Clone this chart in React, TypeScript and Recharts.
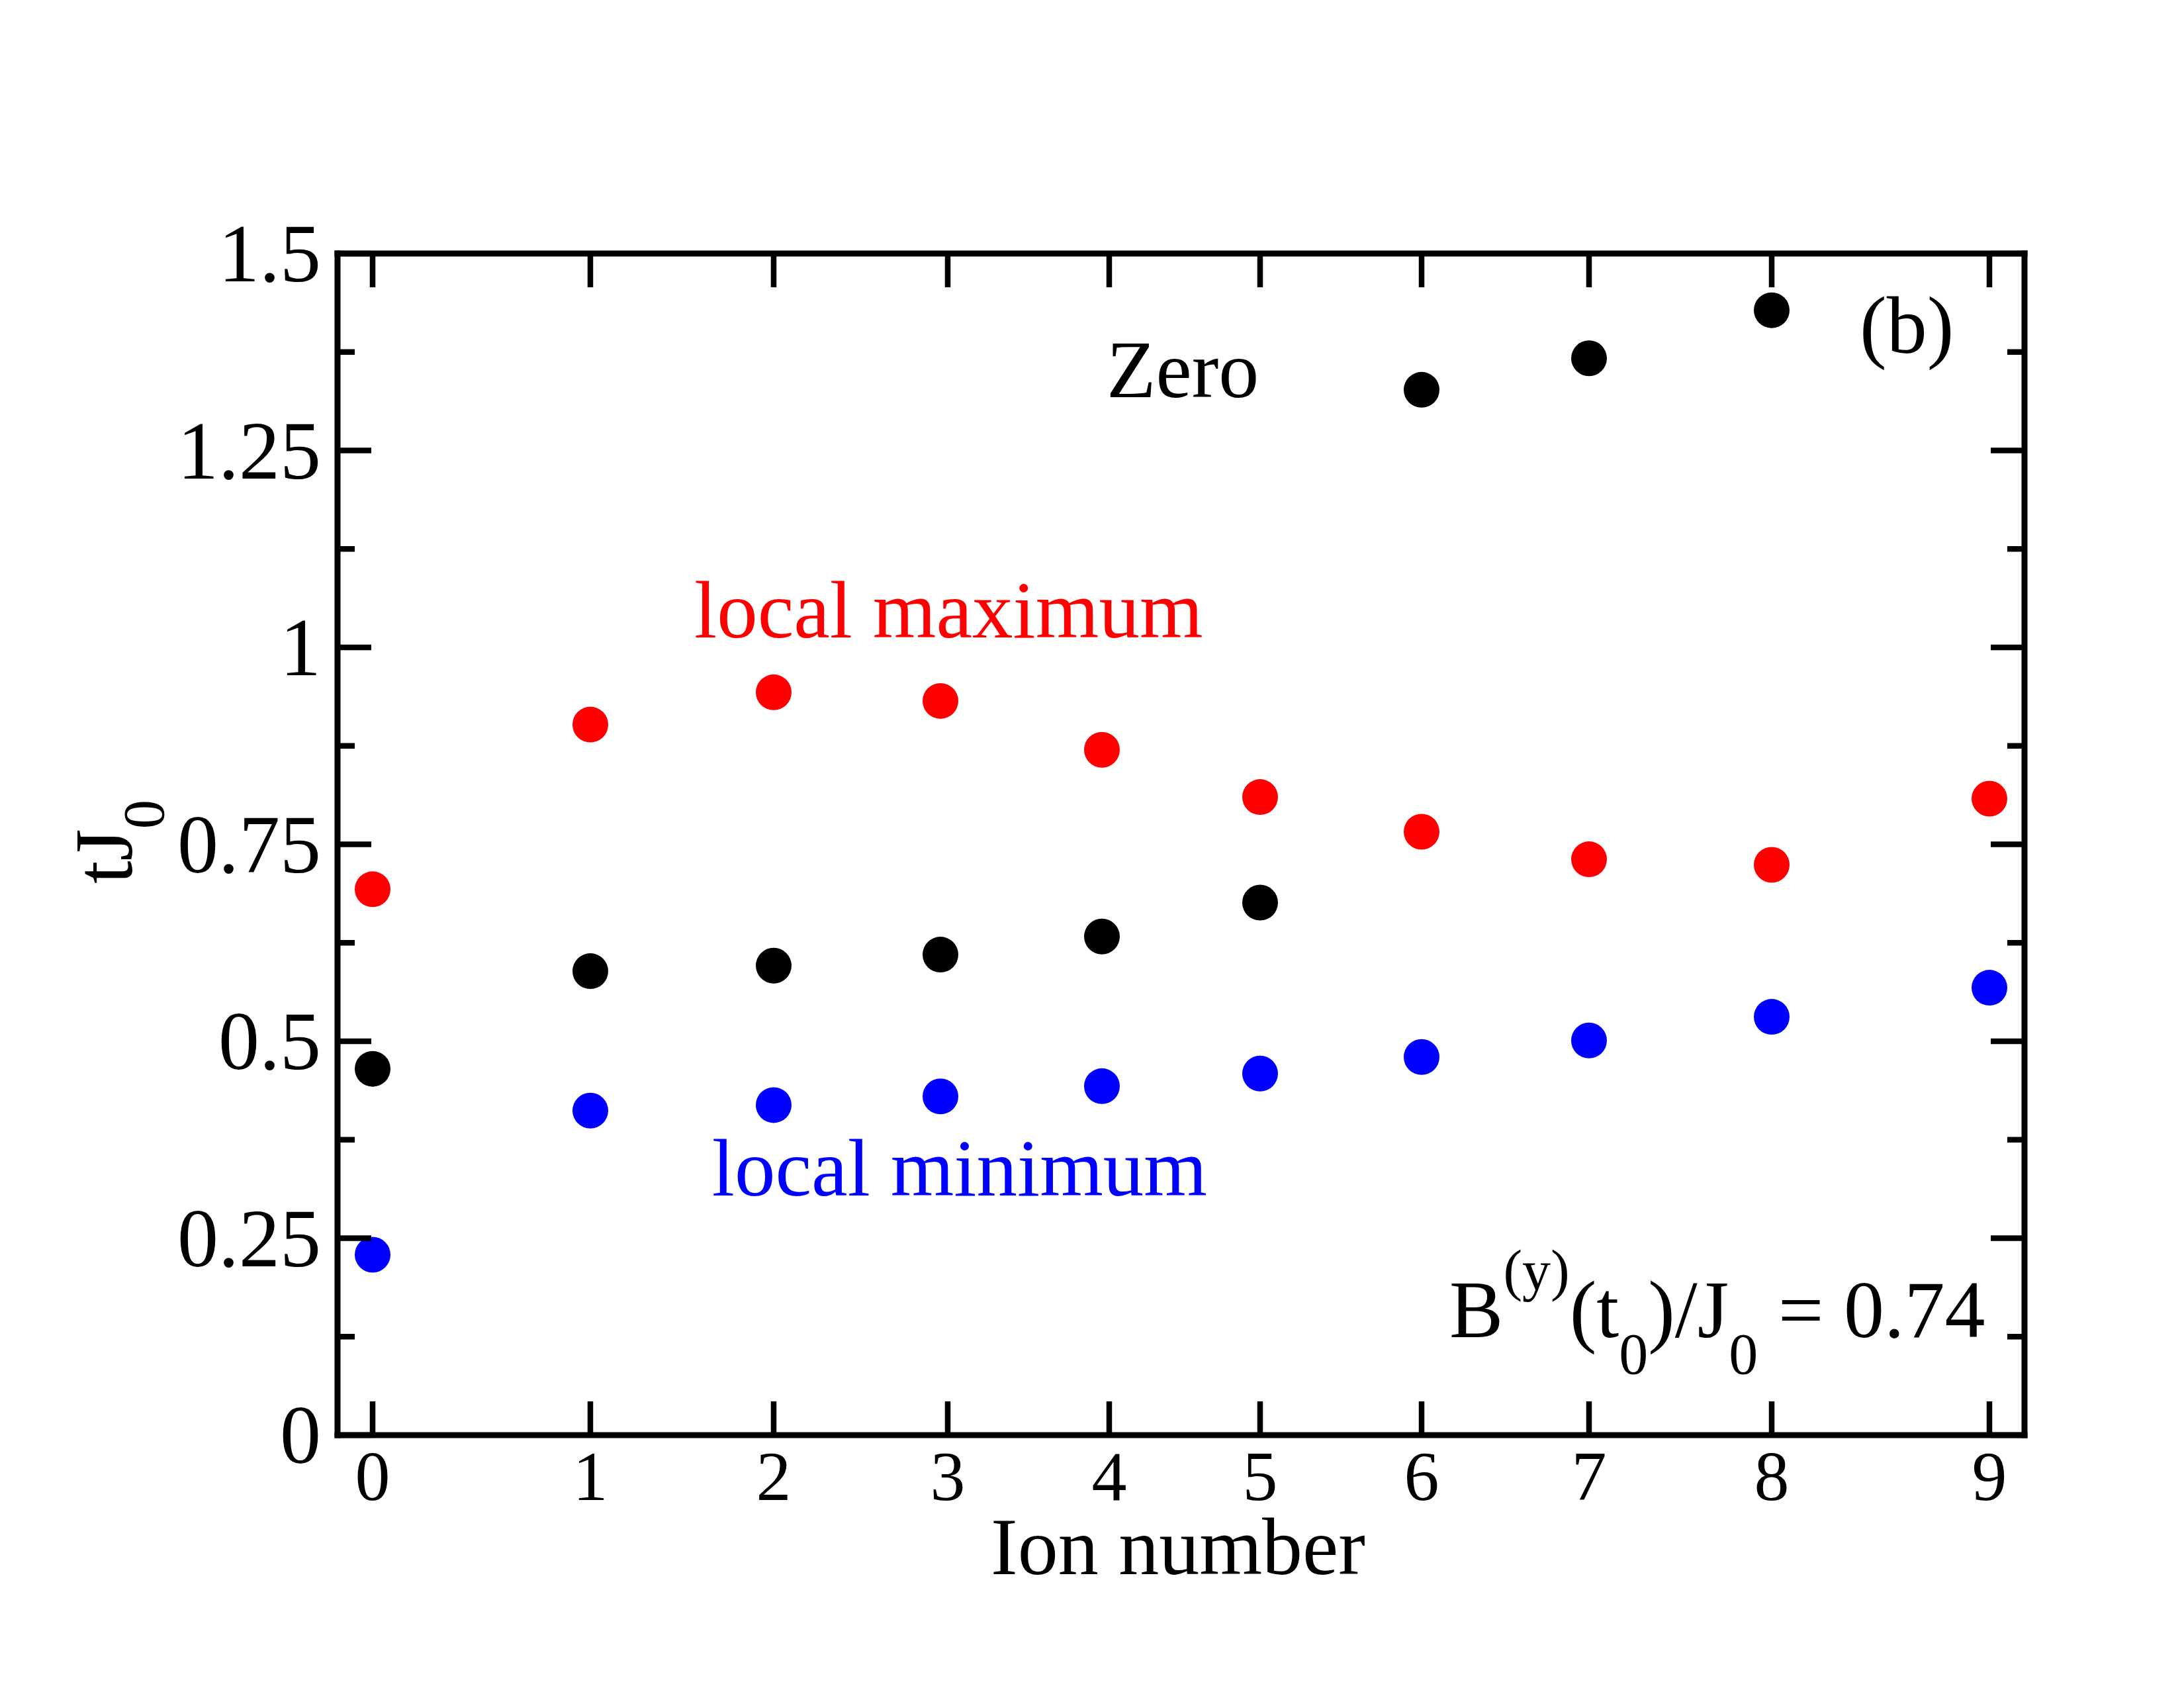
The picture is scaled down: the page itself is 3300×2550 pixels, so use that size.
import { ScatterChart, Scatter, XAxis, YAxis, Customized } from 'recharts'

// ion equilibrium positions (arbitrary length units), tick marks and dots
const ionLabels = ['0', '1', '2', '3', '4', '5', '6', '7', '8', '9']
const tickPos = [-12.23, -8.94, -6.17, -3.54, -1.1, 1.18, 3.62, 6.15, 8.91, 12.2]
const pointPos = [-12.23, -8.94, -6.17, -3.65, -1.21, 1.18, 3.62, 6.15, 8.91, 12.2]

// tJ0 at the zero crossing, local maximum and local minimum
const zeroVals = [0.465, 0.589, 0.596, 0.61, 0.633, 0.676, 1.327, 1.367, 1.428]
const maxVals = [0.693, 0.902, 0.943, 0.932, 0.87, 0.81, 0.766, 0.731, 0.724, 0.808]
const minVals = [0.229, 0.412, 0.419, 0.43, 0.443, 0.459, 0.48, 0.501, 0.531, 0.568]

const yTicks = [0, 0.125, 0.25, 0.375, 0.5, 0.625, 0.75, 0.875, 1, 1.125, 1.25, 1.375, 1.5]
const yLabels: Record<string, string> = { '0': '0', '0.25': '0.25', '0.5': '0.5', '0.75': '0.75', '1': '1', '1.25': '1.25', '1.5': '1.5' }

const FONT = '"Liberation Serif", "Times New Roman", serif'
const MAJOR = 51
const MINOR = 26
const TICK_W = 8.5

const toPoints = (vals: number[]) => vals.map((v, i) => ({ x: pointPos[i], y: v }))
const zeroData = toPoints(zeroVals)
const maxData = toPoints(maxVals)
const minData = toPoints(minVals)

const dot = (color: string) => (props: any) => (
  <circle cx={props.cx} cy={props.cy} r={27} fill={color} />
)

const BottomTick = (props: any) => {
  const { x, y, index } = props
  return (
    <g>
      <line x1={x} y1={y} x2={x} y2={y - MAJOR} stroke="#000" strokeWidth={TICK_W} />
      <text x={x} y={y + 98} textAnchor="middle" fontSize={106} fontFamily={FONT} fill="#000">
        {ionLabels[index]}
      </text>
    </g>
  )
}

const TopTick = (props: any) => {
  const { x, y } = props
  return <line x1={x} y1={y} x2={x} y2={y + MAJOR} stroke="#000" strokeWidth={TICK_W} />
}

const isMajor = (v: number) => Math.abs(v * 4 - Math.round(v * 4)) < 1e-6

const LeftTick = (props: any) => {
  const { x, y, payload } = props
  const v = payload.value
  const major = isMajor(v)
  return (
    <g>
      <line x1={x} y1={y} x2={x + (major ? MAJOR : MINOR)} y2={y} stroke="#000" strokeWidth={TICK_W} />
      {major && (
        <text x={x - 25} y={y + 42} textAnchor="end" fontSize={124} fontFamily={FONT} fill="#000">
          {yLabels[String(v)]}
        </text>
      )}
    </g>
  )
}

const RightTick = (props: any) => {
  const { x, y, payload } = props
  const major = isMajor(payload.value)
  return <line x1={x} y1={y} x2={x - (major ? MAJOR : MINOR)} y2={y} stroke="#000" strokeWidth={TICK_W} />
}

const Annotations = () => (
  <g fontFamily={FONT}>
    <text x={1672} y={600} fontSize={122} fill="#000">Zero</text>
    <text x={2810} y={533} fontSize={122} fill="#000">(b)</text>
    <text x={1049} y={963} fontSize={123} fill="#ff0000">local maximum</text>
    <text x={1824} y={1806} fontSize={123} fill="#0000ff" textAnchor="end">local minimum</text>
    <text x={2190} y={2020} fontSize={122} fill="#000">
      B<tspan fontSize={86} dy={-72}>(y)</tspan>
      <tspan dy={72}>(t</tspan>
      <tspan fontSize={88} dy={55}>0</tspan>
      <tspan dy={-55}>)/J</tspan>
      <tspan fontSize={88} dy={55}>0</tspan>
      <tspan dy={-55}> = 0.74</tspan>
    </text>
    <text x={1780} y={2378} fontSize={122} fill="#000" textAnchor="middle">Ion number</text>
    <text transform="translate(199,1335) rotate(-90)" fontSize={124} fill="#000">
      tJ<tspan fontSize={88} dy={48}>0</tspan>
    </text>
  </g>
)

const xDomain = [-12.76, 12.73]
const yDomain = [0, 1.5]
const frame = { stroke: '#000', strokeWidth: 9, strokeLinecap: 'square' as const }

export default function App() {
  return (
    <div style={{ position: 'absolute', left: 0, top: 0, width: 3300, height: 2550, background: '#fff' }}>
      <ScatterChart width={3300} height={2550} margin={{ top: 382, right: 240, bottom: 381, left: 509 }}>
        <XAxis
          xAxisId="bottom"
          dataKey="x"
          type="number"
          domain={xDomain}
          ticks={tickPos}
          interval={0}
          allowDataOverflow
          height={1}
          tickSize={0}
          tickMargin={0}
          tickLine={false}
          axisLine={frame}
          tick={<BottomTick />}
        />
        <XAxis
          xAxisId="top"
          orientation="top"
          dataKey="x"
          type="number"
          domain={xDomain}
          ticks={tickPos}
          interval={0}
          allowDataOverflow
          height={1}
          tickSize={0}
          tickMargin={0}
          tickLine={false}
          axisLine={frame}
          tick={<TopTick />}
        />
        <YAxis
          yAxisId="left"
          dataKey="y"
          type="number"
          domain={yDomain}
          ticks={yTicks}
          interval={0}
          allowDataOverflow
          width={1}
          tickSize={0}
          tickMargin={0}
          tickLine={false}
          axisLine={frame}
          tick={<LeftTick />}
        />
        <YAxis
          yAxisId="right"
          orientation="right"
          dataKey="y"
          type="number"
          domain={yDomain}
          ticks={yTicks}
          interval={0}
          allowDataOverflow
          width={1}
          tickSize={0}
          tickMargin={0}
          tickLine={false}
          axisLine={frame}
          tick={<RightTick />}
        />
        <Scatter xAxisId="bottom" yAxisId="left" data={maxData} shape={dot('#ff0000')} isAnimationActive={false} />
        <Scatter xAxisId="bottom" yAxisId="left" data={zeroData} shape={dot('#000000')} isAnimationActive={false} />
        <Scatter xAxisId="bottom" yAxisId="left" data={minData} shape={dot('#0000ff')} isAnimationActive={false} />
        <Customized component={Annotations} />
      </ScatterChart>
    </div>
  )
}
